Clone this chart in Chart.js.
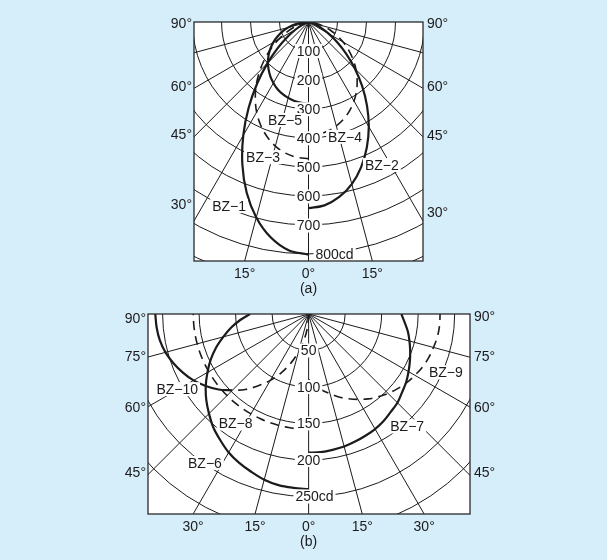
<!DOCTYPE html>
<html>
<head>
<meta charset="utf-8">
<script src="https://cdn.jsdelivr.net/npm/chart.js@4.4.0/dist/chart.umd.min.js"></script>
<style>
  html, body { margin: 0; padding: 0; background: #d5eefa; }
  #wrap { position: relative; width: 607px; height: 560px; }
  canvas { position: absolute; left: 0; }
</style>
</head>
<body>
<div id="wrap">
  <canvas id="chartA" width="607" height="300" style="top:0"></canvas>
  <canvas id="chartB" width="607" height="260" style="top:300px"></canvas>
</div>
<script>
// angle from the downward vertical, degrees
const anglesDeg = [0, 5, 10, 15, 20, 25, 30, 35, 40, 45, 50, 55, 60, 65, 70, 75, 80, 85, 90];

// panel (a) intensities, cd
const bz1 = [800, 788, 752, 696, 624, 540, 450, 360, 275, 200, 137, 87, 50, 26, 11, 4, 1, 0, 0];
const bz2 = [640, 633, 611, 577, 531, 476, 416, 352, 288, 226, 170, 121, 80, 48, 26, 11, 3, 0, 0];
const bz3 = [470, 467, 458, 442, 419, 391, 358, 320, 280, 238, 196, 156, 118, 84, 55, 31, 14, 4, 0];
const bz4 = [390, 388, 381, 370, 355, 336, 314, 289, 261, 232, 201, 169, 138, 107, 78, 51, 28, 10, 0];
const bz5 = [280, 279, 276, 270, 263, 254, 242, 229, 214, 198, 180, 161, 140, 118, 96, 72, 49, 24, 0];

// panel (b) intensities, cd
const bz6 = [240, 239, 238, 235, 230, 225, 219, 211, 203, 193, 183, 172, 160, 148, 135, 121, 108, 94, 80];
const bz7 = [190, 190, 189, 188, 186, 184, 182, 179, 175, 172, 167, 163, 158, 153, 148, 143, 138, 132, 127];
const bz8 = [158, 158, 158, 158, 158, 158, 158, 158, 158, 158, 158, 158, 158, 158, 158, 158, 158, 158, 158];
const bz9 = [90, 98, 106, 113, 121, 128, 135, 142, 148, 154, 159, 164, 168, 172, 175, 177, 179, 180, 180];
const bz10 = [0, 18, 36, 54, 72, 89, 105, 120, 135, 148, 161, 172, 182, 190, 197, 203, 207, 209, 210];

// grid
const ringsA = [100, 200, 300, 400, 500, 600, 700, 800, 900];
const ringsB = [50, 100, 150, 200, 250, 300];
const spokeAngles = [-75, -60, -45, -30, -15, 0, 15, 30, 45, 60, 75];
const ringLabelsA = ['100', '200', '300', '400', '500', '600', '700'];
const ringLabelsB = ['50', '100', '150', '200'];

const FONT = '14px "Liberation Sans", Arial, sans-serif';
const INK = '#1c1a1b';

function curve(values, side, from = 0, to = anglesDeg.length - 1) {
    const pts = [];
    for (let i = from; i <= to; i++) {
        const t = anglesDeg[i] * Math.PI / 180;
        pts.push({ x: side * values[i] * Math.sin(t), y: -values[i] * Math.cos(t) });
    }
    return pts;
}

function lineSet(points, dashed) {
    return {
        data: points,
        showLine: true,
        pointRadius: 0,
        borderColor: INK,
        borderWidth: dashed ? 1.6 : 2.2,
        borderDash: dashed ? [9, 6] : [],
        tension: 0.35,
        fill: false
    };
}

function tag(ctx, text, px, py, align, boxed) {
    ctx.font = FONT;
    const w = ctx.measureText(text).width;
    const left = align === 'left' ? px : align === 'right' ? px - w : px - w / 2;
    if (boxed) {
        ctx.fillStyle = '#fff';
        ctx.fillRect(left - 2, py - 7, w + 4, 14);
    }
    ctx.fillStyle = INK;
    ctx.textAlign = align;
    ctx.textBaseline = 'middle';
    ctx.fillText(text, px, py + 1);
}

function polarPlugin(cfg) {
    return {
        id: 'polar',
        beforeDatasetsDraw(chart) {
            const { ctx, chartArea: ca, scales: { x, y } } = chart;
            ctx.save();
            ctx.fillStyle = '#fff';
            ctx.fillRect(ca.left, ca.top, ca.width, ca.height);
            ctx.beginPath();
            ctx.rect(ca.left, ca.top, ca.width, ca.height);
            ctx.clip();
            const ox = x.getPixelForValue(0), oy = y.getPixelForValue(0);
            ctx.strokeStyle = INK;
            ctx.lineWidth = 1;
            cfg.rings.forEach(r => {
                const rp = x.getPixelForValue(r) - ox;
                ctx.beginPath();
                ctx.arc(ox, oy, rp, 0, Math.PI);
                ctx.stroke();
            });
            cfg.spokes.forEach(a => {
                const t = a * Math.PI / 180, R = 3000;
                ctx.beginPath();
                ctx.moveTo(ox, oy);
                ctx.lineTo(x.getPixelForValue(R * Math.sin(t)), y.getPixelForValue(-R * Math.cos(t)));
                ctx.stroke();
            });
            ctx.restore();
        },
        afterDatasetsDraw(chart) {
            const { ctx, scales: { x, y } } = chart;
            ctx.save();
            cfg.ringLabels.forEach(s => tag(ctx, s, x.getPixelForValue(0), y.getPixelForValue(-Number(s)), 'center', true));
            cfg.tags.forEach(t => tag(ctx, t[0], x.getPixelForValue(t[1]), y.getPixelForValue(t[2]), 'center', true));
            ctx.restore();
        },
        afterDraw(chart) {
            const { ctx, chartArea: ca, scales: { x, y } } = chart;
            ctx.save();
            ctx.strokeStyle = '#2a2a2a';
            ctx.lineWidth = 1.3;
            ctx.strokeRect(ca.left, ca.top, ca.width, ca.height);
            cfg.side.labels.forEach((s, i) => {
                tag(ctx, s, ca.left - 2, y.getPixelForValue(cfg.side.left[i]), 'right', false);
                tag(ctx, s, ca.right + 4, y.getPixelForValue(cfg.side.right[i]), 'left', false);
            });
            const depth = -y.min;
            cfg.bottom.forEach(a => {
                const px = x.getPixelForValue(depth * Math.tan(a * Math.PI / 180));
                tag(ctx, Math.abs(a) + '°', px, ca.bottom + 12, 'center', false);
            });
            tag(ctx, cfg.caption, x.getPixelForValue(0), ca.bottom + 27, 'center', false);
            ctx.restore();
        }
    };
}

function buildPanel(id, datasets, xr, yMin, padding, cfg) {
    return new Chart(document.getElementById(id), {
        type: 'scatter',
        data: { datasets: datasets },
        options: {
            responsive: false,
            animation: false,
            events: [],
            layout: { padding: padding },
            plugins: { legend: { display: false }, tooltip: { enabled: false } },
            scales: {
                x: { type: 'linear', min: xr[0], max: xr[1], display: false },
                y: { type: 'linear', min: yMin, max: 0, display: false }
            }
        },
        plugins: [polarPlugin(cfg)]
    });
}

buildPanel('chartA', [
    lineSet(curve(bz1, -1), false),
    lineSet(curve(bz2, 1), false),
    lineSet(curve(bz3, -1), true),
    lineSet(curve(bz4, 1), true),
    lineSet(curve(bz5, -1), false)
], [-395, 395], -822, { left: 194, right: 184, top: 22, bottom: 39 }, {
    rings: ringsA,
    spokes: spokeAngles,
    ringLabels: ringLabelsA,
    tags: [
        ['800cd', 90, -800],
        ['BZ−1', -274, -633],
        ['BZ−2', 253, -492],
        ['BZ−3', -157, -465],
        ['BZ−4', 126, -395],
        ['BZ−5', -81, -337]
    ],
    side: { labels: ['90°', '60°', '45°', '30°'], left: [-3, -222, -385, -627], right: [-3, -222, -388, -653] },
    bottom: [-15, 0, 15],
    caption: '(a)'
});

buildPanel('chartB', [
    lineSet(curve(bz6, -1), false),
    lineSet(curve(bz7, 1), false),
    lineSet(curve(bz8, -1), true),
    lineSet(curve(bz9, 1), true),
    lineSet(curve(bz10, -1, 9, 18), false),
    lineSet(curve(bz10, -1, 0, 9), true)
], [-220, 221], -274, { left: 148, right: 137, top: 14, bottom: 46 }, {
    rings: ringsB,
    spokes: spokeAngles,
    ringLabels: ringLabelsB,
    tags: [
        ['250cd', 8, -250],
        ['BZ−10', -180, -103],
        ['BZ−8', -100, -150],
        ['BZ−9', 188, -80],
        ['BZ−7', 135, -154],
        ['BZ−6', -142, -204]
    ],
    side: { labels: ['90°', '75°', '60°', '45°'], left: [-5, -58, -127, -216], right: [-3, -58, -127, -217] },
    bottom: [-30, -15, 0, 15, 30],
    caption: '(b)'
});
</script>
</body>
</html>
